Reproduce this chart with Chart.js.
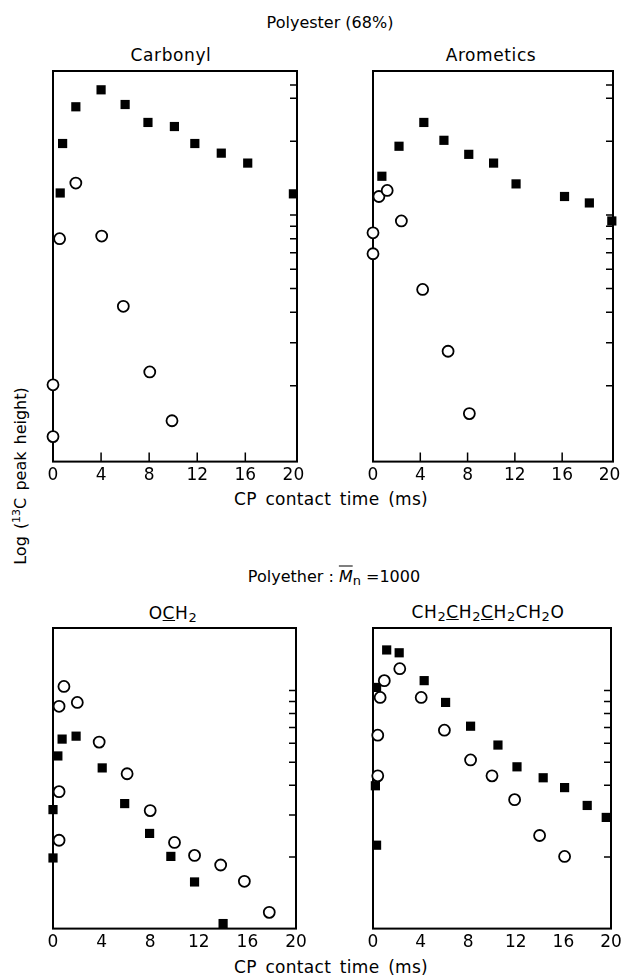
<!DOCTYPE html>
<html>
<head>
<meta charset="utf-8">
<script src="https://cdn.jsdelivr.net/npm/chart.js"></script>
<style>
  body { margin: 0; background: #fff; }
  #page { position: relative; width: 623px; height: 977px; font-family: "DejaVu Sans", sans-serif; color: #000; }
  .panel { position: absolute; }
  .txt { position: absolute; transform: translate(-50%, -50%); white-space: nowrap; font-size: 16px; }
  .title { font-size: 17px; letter-spacing: 0.6px; }
  .axlab { font-size: 17px; word-spacing: 3px; letter-spacing: 0.3px; }
  .txt sub { font-size: 13px; vertical-align: -3px; }
  .ylab { position: absolute; transform: translate(-50%, -50%) rotate(-90deg); white-space: nowrap; font-size: 16px; word-spacing: 2px; }
  .ylab sup { font-size: 11px; }
</style>
</head>
<body>
<div id="page">
  <div class="txt" style="left:330px; top:22px;">Polyester (68%)</div>
  <div class="txt title" style="left:171px; top:55px;">Carbonyl</div>
  <div class="txt title" style="left:491px; top:55px;">Arometics</div>
  <div class="txt axlab" style="left:331px; top:499px;">CP contact time (ms)</div>
  <div class="txt" style="left:334px; top:577px;">Polyether : <i style="text-decoration: overline;">M</i><sub>n</sub> =1000</div>
  <div class="txt title" style="left:173px; top:614px;">O<u>C</u>H<sub>2</sub></div>
  <div class="txt title" style="left:488px; top:613px;">CH<sub>2</sub><u>C</u>H<sub>2</sub><u>C</u>H<sub>2</sub>CH<sub>2</sub>O</div>
  <div class="txt axlab" style="left:331px; top:967px;">CP contact time (ms)</div>
  <div class="ylab" style="left:20px; top:476px;">Log (<sup>13</sup>C peak height)</div>
</div>
<script>
// contact times (ms) and peak heights (arbitrary units, log axis)
const carbonylFilledX = [0.6, 0.8, 1.9, 4.0, 6.0, 7.9, 10.1, 11.8, 14.0, 16.2, 20.0];
const carbonylFilledY = [12.3, 19.6, 27.7, 32.5, 28.3, 23.9, 23.0, 19.6, 17.9, 16.3, 12.2];
const carbonylOpenX = [0, 0, 0.55, 1.9, 4.05, 5.85, 8.05, 9.9];
const carbonylOpenY = [2.02, 1.24, 8.0, 13.5, 8.2, 4.23, 2.28, 1.44];

const aromaticFilledX = [0.75, 2.2, 4.3, 6.0, 8.1, 10.2, 12.1, 16.2, 18.3, 20.2];
const aromaticFilledY = [14.4, 19.1, 23.9, 20.2, 17.7, 16.3, 13.4, 11.9, 11.2, 9.45];
const aromaticOpenX = [0, 0, 0.5, 1.2, 2.4, 4.2, 6.35, 8.15];
const aromaticOpenY = [8.45, 6.94, 11.9, 12.6, 9.45, 4.96, 2.77, 1.54];

const och2FilledX = [0, 0, 0.4, 0.75, 1.9, 4.05, 5.9, 7.95, 9.7, 11.65, 14.0];
const och2FilledY = [1.98, 3.16, 5.31, 6.25, 6.43, 4.73, 3.35, 2.51, 2.01, 1.57, 1.05];
const och2OpenX = [0.9, 0.5, 2.0, 3.8, 0.5, 0.5, 6.1, 8.0, 10.0, 11.65, 13.8, 15.75, 17.8];
const och2OpenY = [10.4, 8.58, 8.91, 6.07, 3.76, 2.35, 4.47, 3.13, 2.30, 2.03, 1.85, 1.58, 1.17];

const ch2FilledX = [0.3, 0.2, 0.3, 1.15, 2.2, 4.3, 6.1, 8.2, 10.5, 12.1, 14.3, 16.1, 18.0, 19.6];
const ch2FilledY = [10.3, 3.98, 2.24, 14.8, 14.4, 11.0, 8.91, 7.08, 5.90, 4.78, 4.30, 3.91, 3.29, 2.93];
const ch2OpenX = [0.95, 2.25, 0.6, 4.05, 6.0, 0.4, 8.2, 0.4, 10.0, 11.9, 14.0, 16.1];
const ch2OpenY = [11.0, 12.35, 9.35, 9.35, 6.81, 6.49, 5.11, 4.38, 4.38, 3.48, 2.46, 2.01];

// axis ticks
const xTickValues = [0, 4, 8, 12, 16, 20];
const xInnerMarks = [4, 8, 12, 16];
const polyesterYTicks = [2, 3, 4, 5, 6, 7, 8, 9, 10, 20, 30, 34];
const polyetherYTicks = [2, 3, 4, 5, 6, 7, 8, 9, 10];

const PAD = 20;

function toPoints(xs, ys) {
    return xs.map((x, i) => ({ x: x, y: ys[i] }));
}

// box round the plot with small inward ticks
const framePlugin = {
    id: 'frame',
    beforeDatasetsDraw(chart, args, opts) {
        const ctx = chart.ctx;
        const a = chart.chartArea;
        ctx.save();
        ctx.strokeStyle = '#000';
        ctx.lineWidth = 2;
        ctx.strokeRect(a.left, a.top, a.right - a.left, a.bottom - a.top);
        ctx.lineWidth = 1.5;
        ctx.beginPath();
        opts.yTicks.forEach(v => {
            const y = chart.scales.y.getPixelForValue(v);
            ctx.moveTo(a.right, y);
            ctx.lineTo(a.right - 7, y);
        });
        (opts.xMarks || []).forEach(v => {
            const x = chart.scales.x.getPixelForValue(v);
            ctx.moveTo(x, a.bottom);
            ctx.lineTo(x, a.bottom - 9);
        });
        ctx.stroke();
        ctx.restore();
    }
};

function makePanel(box, filled, open, yMin, yMax, xMax, yTicks, xMarks) {
    const div = document.createElement('div');
    div.className = 'panel';
    const w = box.r - box.l + 2 * PAD;
    const h = box.b - box.t + PAD + 27;
    div.style.left = (box.l - PAD) + 'px';
    div.style.top = (box.t - PAD) + 'px';
    div.style.width = w + 'px';
    div.style.height = h + 'px';
    const canvas = document.createElement('canvas');
    div.appendChild(canvas);
    document.getElementById('page').appendChild(div);

    new Chart(canvas.getContext('2d'), {
        type: 'scatter',
        data: {
            datasets: [{
                data: open,
                pointStyle: 'circle',
                pointRadius: 5.5,
                backgroundColor: '#fff',
                borderColor: '#000',
                borderWidth: 1.8,
                clip: false
            }, {
                data: filled,
                pointStyle: 'rect',
                pointRadius: 6.5,
                backgroundColor: '#000',
                borderColor: '#000',
                borderWidth: 0,
                clip: false
            }]
        },
        options: {
            responsive: true,
            maintainAspectRatio: false,
            animation: false,
            layout: { padding: { left: PAD, right: PAD, top: PAD, bottom: 0 } },
            plugins: {
                legend: { display: false },
                tooltip: { enabled: false },
                frame: { yTicks: yTicks, xMarks: xMarks }
            },
            scales: {
                x: {
                    type: 'linear',
                    min: 0,
                    max: xMax,
                    afterBuildTicks: s => { s.ticks = xTickValues.map(v => ({ value: v })); },
                    grid: { display: false, drawTicks: false },
                    border: { display: false },
                    ticks: {
                        color: '#000',
                        padding: 4,
                        font: { family: 'DejaVu Sans', size: 17 }
                    }
                },
                y: {
                    type: 'logarithmic',
                    display: false,
                    min: yMin,
                    max: yMax
                }
            }
        },
        plugins: [framePlugin]
    });
}

makePanel({ l: 53, t: 71, r: 297, b: 463 },
    toPoints(carbonylFilledX, carbonylFilledY), toPoints(carbonylOpenX, carbonylOpenY),
    0.98, 38.8, 20.3, polyesterYTicks, xInnerMarks);
makePanel({ l: 373, t: 71, r: 613, b: 463 },
    toPoints(aromaticFilledX, aromaticFilledY), toPoints(aromaticOpenX, aromaticOpenY),
    0.98, 38.8, 20.3, polyesterYTicks, xInnerMarks);
makePanel({ l: 53, t: 628, r: 296, b: 930 },
    toPoints(och2FilledX, och2FilledY), toPoints(och2OpenX, och2OpenY),
    1.0, 18.3, 20, polyetherYTicks, []);
makePanel({ l: 373, t: 628, r: 611, b: 930 },
    toPoints(ch2FilledX, ch2FilledY), toPoints(ch2OpenX, ch2OpenY),
    1.0, 18.3, 20, polyetherYTicks, []);
</script>
</body>
</html>
